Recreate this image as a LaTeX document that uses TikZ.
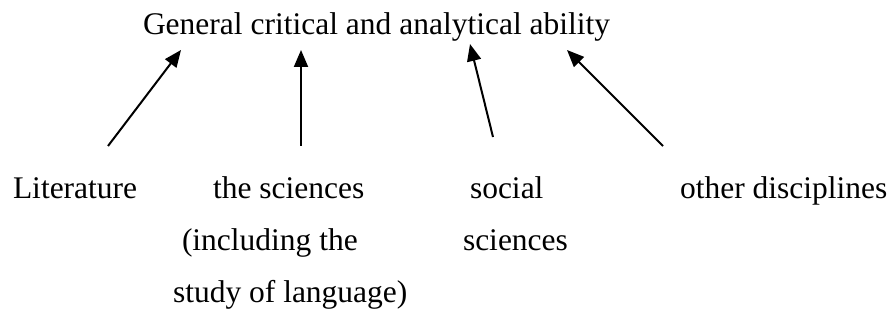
\documentclass[tikz,border=0pt]{standalone}
\usepackage{fontspec}
\setmainfont{Liberation Serif}
\usetikzlibrary{arrows.meta}
\tikzset{
  lbl/.style={anchor=base west, inner sep=0pt, outer sep=0pt, font=\fontsize{31.5}{38}\selectfont},
  arr/.style={line width=2pt, -{Triangle[length=17pt,width=14pt]}}
}
\begin{document}
\begin{tikzpicture}[x=1pt,y=-1pt]
\useasboundingbox (0,0) rectangle (893,320);
\node[lbl] (title) at (143,35) {General critical and analytical ability};
\node[lbl] (lit) at (13,199) {Literature};
\node[lbl] (sci) at (213,199) {the sciences};
\node[lbl] (sci2) at (182,251) {(including the};
\node[lbl] (sci3) at (173,302) {study of language)};
\node[lbl] (soc) at (470,199) {social};
\node[lbl] (soc2) at (463,251) {sciences};
\node[lbl] (oth) at (680,199) {other disciplines};
\coordinate (s1) at (108,146);
\coordinate (t1) at (181,50);
\coordinate (s2) at (301,146);
\coordinate (t2) at (301,50);
\coordinate (s3) at (493,137);
\coordinate (t3) at (470,44);
\coordinate (s4) at (663,146);
\coordinate (t4) at (567,50);
\draw[arr] (s1) -- (t1);
\draw[arr] (s2) -- (t2);
\draw[arr] (s3) -- (t3);
\draw[arr] (s4) -- (t4);
\end{tikzpicture}
\end{document}
